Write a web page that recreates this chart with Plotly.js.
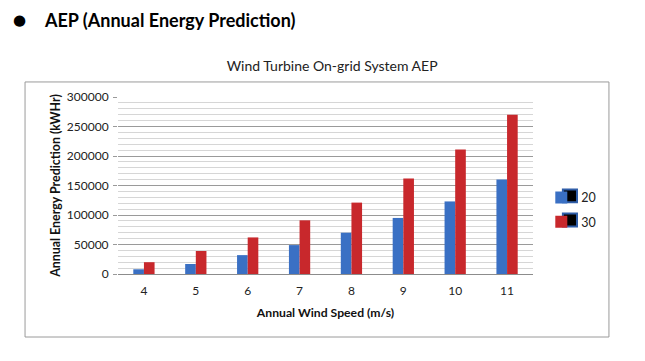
<!DOCTYPE html>
<html>
<head>
<meta charset="utf-8">
<script src="https://cdn.plot.ly/plotly-3.0.1.min.js"></script>
<style>html,body{margin:0;padding:0;background:#fff;}#chart{width:645px;height:361px;}</style>
</head>
<body>
<div id="chart"></div>
<script>
// Data
const windSpeeds = ['4', '5', '6', '7', '8', '9', '10', '11'];
const seriesNames = ['20', '30'];
const aep20 = [8000, 17000, 32000, 49000, 70000, 95000, 123000, 160000];
const aep30 = [20000, 39000, 62000, 91000, 121000, 162000, 211000, 270000];
const yTicks = [0, 50000, 100000, 150000, 200000, 250000, 300000];

const FONT = 'Lato, "Open Sans", sans-serif';
const blue = '#3a70c4';
const red = '#c8282c';

const traces = [
  {type: 'bar', name: seriesNames[0], legendgroup: 'g1', x: windSpeeds, y: aep20, marker: {color: blue}},
  {type: 'bar', name: seriesNames[1], legendgroup: 'g2', x: windSpeeds, y: aep30, marker: {color: red}}
];

// legend decoration boxes (black squares with blue outline, as in the source image)
const legendBox = (y0, y1) => ({type: 'rect', xref: 'paper', yref: 'paper', x0: 1.072, x1: 1.106, y0: y0, y1: y1,
  line: {color: '#2f5da8', width: 2}, fillcolor: '#000', layer: 'above'});

const layout = {
  width: 645, height: 361,
  margin: {l: 118, r: 112, t: 97, b: 87},
  paper_bgcolor: '#fff', plot_bgcolor: '#fff',
  font: {family: FONT, size: 12, color: '#222'},
  barmode: 'group', bargap: 0.59, bargroupgap: 0,
  showlegend: true,
  legend: {x: 1.02, y: 0.515, xanchor: 'left', yanchor: 'top', font: {size: 12.5, color: '#222'},
           traceorder: 'grouped', tracegroupgap: 5, bgcolor: 'rgba(0,0,0,0)'},
  title: {text: 'Wind Turbine On-grid System AEP', font: {family: FONT, size: 14, color: '#222'},
          x: 0.516, xanchor: 'center', y: 0.817, yanchor: 'middle', xref: 'paper', yref: 'container'},
  xaxis: {
    type: 'category', showgrid: false, showline: true, linecolor: '#8c8c8c', linewidth: 1,
    ticks: '', ticklabelstandoff: 6, tickfont: {size: 12, color: '#222'},
    title: {text: 'Annual Wind Speed (m/s)', font: {family: FONT, size: 12.2, color: '#111', weight: 'bold'}, standoff: 11}
  },
  yaxis: {
    range: [0, 300000], tickvals: yTicks, tickformat: 'd',
    showgrid: true, gridcolor: '#9a9a9a', gridwidth: 1,
    zeroline: true, zerolinecolor: '#8c8c8c', zerolinewidth: 1,
    showline: false, ticks: 'outside', ticklen: 4, tickcolor: '#9a9a9a', ticklabelstandoff: 2,
    tickfont: {size: 12, color: '#222'},
    minor: {dtick: 10000, showgrid: true, gridcolor: '#d6d6d6', gridwidth: 1, ticks: ''},
    title: {text: 'Annual Energy Prediction (kWHr)', font: {family: FONT, size: 12.4, color: '#111', weight: 'bold'}, standoff: 3}
  },
  shapes: [
    {type: 'rect', xref: 'paper', yref: 'paper', x0: -0.224, x1: 1.183, y0: -0.356, y1: 1.085,
     line: {color: '#9a9a9a', width: 1}, fillcolor: 'rgba(0,0,0,0)', layer: 'below'},
    legendBox(0.405, 0.478),
    legendBox(0.269, 0.342)
  ],
  annotations: [
    {text: '●', xref: 'paper', yref: 'paper', x: -0.238, y: 1.437, xanchor: 'center', yanchor: 'middle',
     showarrow: false, font: {family: 'DejaVu Sans', size: 15, color: '#000'}},
    {text: '<b>AEP (Annual Energy Prediction)</b>', xref: 'paper', yref: 'paper', x: -0.183, y: 1.435,
     xanchor: 'left', yanchor: 'middle', showarrow: false, font: {family: FONT, size: 18, color: '#000'}}
  ]
};

Plotly.newPlot('chart', traces, layout, {displayModeBar: false, staticPlot: true});
</script>
</body>
</html>
